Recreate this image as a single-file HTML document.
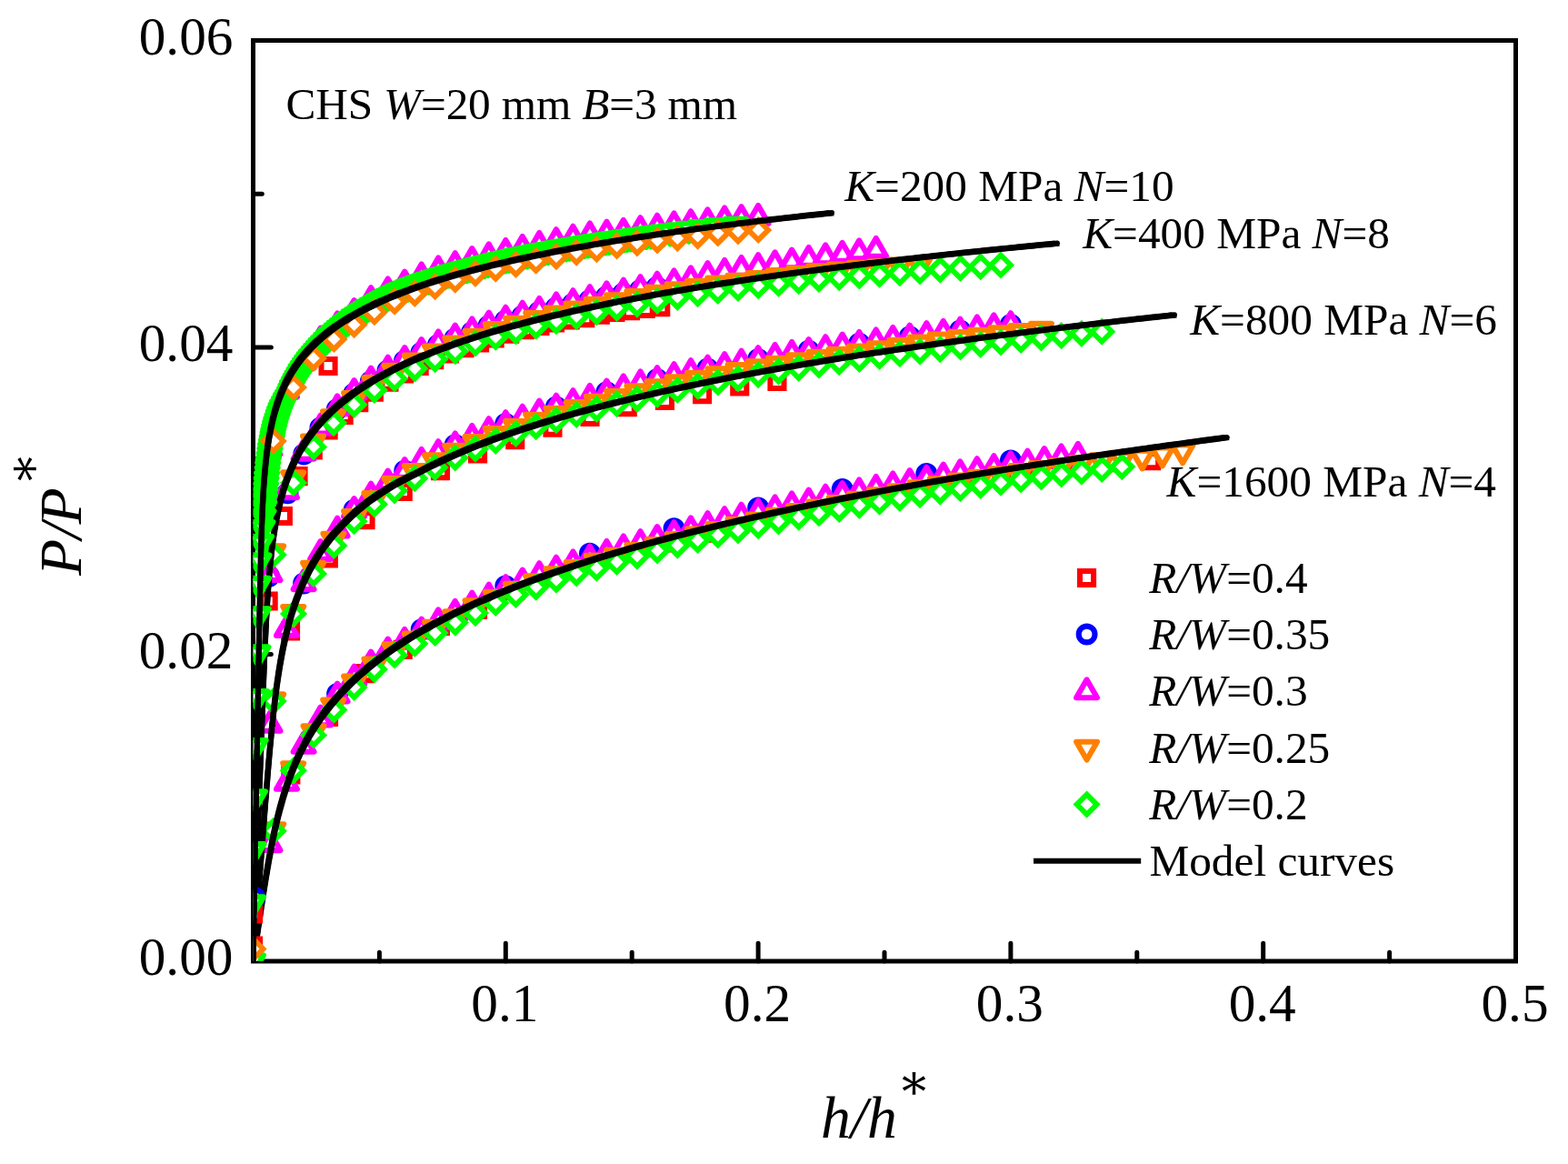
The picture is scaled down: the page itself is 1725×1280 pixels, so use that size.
<!DOCTYPE html>
<html lang="en"><head><meta charset="utf-8"><title>P/P* versus h/h* model curves</title>
<style>
html,body{margin:0;padding:0;background:#fff;}
body{width:1725px;height:1280px;overflow:hidden;}
svg{display:block;}
svg text{font-family:"Liberation Serif","DejaVu Serif",serif;fill:#000;}
.i{font-style:italic;}
.st{font-family:"DejaVu Serif","Liberation Serif",serif;}
.mk{fill:#fff;stroke-width:6.1;stroke-linejoin:round;}
.sr{fill:none;stroke:none;}
.sq{stroke-width:6;stroke-linejoin:miter;}
.di{stroke-width:5.8;stroke-linejoin:miter;}
.ax{stroke:#000;stroke-width:5;stroke-linecap:round;fill:none;}
.cv{stroke:#000;stroke-width:6.1;stroke-linecap:round;stroke-linejoin:round;fill:none;}
</style></head>
<body>
<svg width="1725" height="1280" viewBox="0 0 1725 1280">
<rect width="1725" height="1280" fill="#fff"/>
<defs><clipPath id="pl"><rect x="278.5" y="44.5" width="1389.0" height="1012.5"/></clipPath>
<marker id="sq-r" markerUnits="userSpaceOnUse" markerWidth="40" markerHeight="40" viewBox="-20 -20 40 40" refX="0" refY="0" overflow="visible"><path class="mk sq" stroke="#ff0000" d="M-7.5 -7.5h15.1v15.1h-15.1z"/></marker>
<marker id="ci-b" markerUnits="userSpaceOnUse" markerWidth="40" markerHeight="40" viewBox="-20 -20 40 40" refX="0" refY="0" overflow="visible"><path class="mk" stroke="#0000ff" d="M-8.9 0a8.9 8.9 0 1 0 17.8 0a8.9 8.9 0 1 0 -17.8 0z"/></marker>
<marker id="up-m" markerUnits="userSpaceOnUse" markerWidth="40" markerHeight="40" viewBox="-20 -20 40 40" refX="0" refY="0" overflow="visible"><path class="mk" stroke="#ff00ff" d="M0 -13.2l11.4 19.8h-22.9z"/></marker>
<marker id="dn-o" markerUnits="userSpaceOnUse" markerWidth="40" markerHeight="40" viewBox="-20 -20 40 40" refX="0" refY="0" overflow="visible"><path class="mk" stroke="#ff8000" d="M0 13.2l11.4 -19.8h-22.9z"/></marker>
<marker id="dn-g" markerUnits="userSpaceOnUse" markerWidth="40" markerHeight="40" viewBox="-20 -20 40 40" refX="0" refY="0" overflow="visible"><path class="mk" stroke="#00ff00" d="M0 13.2l11.4 -19.8h-22.9z"/></marker>
<marker id="di-o" markerUnits="userSpaceOnUse" markerWidth="40" markerHeight="40" viewBox="-20 -20 40 40" refX="0" refY="0" overflow="visible"><path class="mk di" stroke="#ff8000" d="M0 -11l11 11l-11 11l-11 -11z"/></marker>
<marker id="di-g" markerUnits="userSpaceOnUse" markerWidth="40" markerHeight="40" viewBox="-20 -20 40 40" refX="0" refY="0" overflow="visible"><path class="mk di" stroke="#00ff00" d="M0 -11l11 11l-11 11l-11 -11z"/></marker>
</defs>
<g id="axes">
<rect x="278.5" y="44.5" width="1389.0" height="1012.5" fill="none" stroke="#000" stroke-width="5"/>
<path class="ax" d="M417.4 1057v-9.8M556.3 1057v-19.8M695.2 1057v-9.8M834.1 1057v-19.8M973 1057v-9.8M1111.9 1057v-19.8M1250.8 1057v-9.8M1389.7 1057v-19.8M1528.6 1057v-9.8M278.5 888.2h9.8M278.5 719.5h19.8M278.5 550.8h9.8M278.5 382h19.8M278.5 213.2h9.8"/>
</g>
<g id="ticklabels" font-size="59.3">
<text x="555.3" y="1123" text-anchor="middle">0.1</text>
<text x="833.1" y="1123" text-anchor="middle">0.2</text>
<text x="1110.9" y="1123" text-anchor="middle">0.3</text>
<text x="1388.7" y="1123" text-anchor="middle">0.4</text>
<text x="1666.5" y="1123" text-anchor="middle">0.5</text>
<text x="256.5" y="1072.2" text-anchor="end">0.00</text>
<text x="256.5" y="734.7" text-anchor="end">0.02</text>
<text x="256.5" y="397.2" text-anchor="end">0.04</text>
<text x="256.5" y="59.7" text-anchor="end">0.06</text>
</g>
<g id="titles" font-size="65.7">
<text x="903" y="1251.3"><tspan class="i">h/h</tspan></text>
<text class="st" x="992.1" y="1219.9" font-size="54">*</text>
<text transform="translate(89,633) rotate(-90)" x="0 40.1 56.6" y="0"><tspan class="i">P/P</tspan></text>
<text class="st" transform="translate(55.9,529.1) rotate(-90)" font-size="54">*</text>
</g>
<g id="data" clip-path="url(#pl)">
<g id="K4">
<path class="sr" marker-start="url(#sq-r)" marker-mid="url(#sq-r)" marker-end="url(#sq-r)" d="M319.8 852 361.5 788.3 402 740.6 443.2 714.3 484.4 688.5 525.5 670.5 566.7 649.6 607.9 634.2 649 620.5 690.2 608.1 731.4 596.8 772.5 586.2 813.7 576.4 854.9 567.2 896.1 558.5 937.2 550.2 978.4 542.4 1019.6 535.2 1060.7 528.5 1101.9 522.1 1143.1 516.8 1184.2 511.7 1225.4 508.6 1266.6 506.6"/>
<path class="sr" marker-start="url(#ci-b)" marker-mid="url(#ci-b)" marker-end="url(#ci-b)" d="M371.1 763 463.7 692.1 556.3 644.4 648.9 608.8 741.5 581.1 834.1 558.4 926.7 538 1019.3 521 1111.9 506.4"/>
<path class="sr" marker-start="url(#up-m)" marker-mid="url(#up-m)" marker-end="url(#up-m)" d="M297 928.5 315.5 861.1 334.1 820.1 352.6 790.8 371.1 764.8 389.6 745.9 408.1 729.8 426.7 715.8 445.2 705.1 463.7 693.8 482.2 683.6 500.7 674.1 519.3 664.9 537.8 655.9 556.3 647.4 574.8 639.8 593.3 632.5 611.9 626 630.4 619.7 648.9 613.8 667.4 608.2 685.9 602.7 704.5 597.4 723 592.3 741.5 587.4 760 582.6 778.5 577.4 797.1 572.4 815.6 568 834.1 563.7 852.6 559.7 871.1 555.7 889.7 551.8 908.2 548 926.7 544.3 945.2 540.7 963.7 537.2 982.3 533.7 1000.8 530.3 1019.3 527 1037.8 523.8 1056.3 520.6 1074.9 517.5 1093.4 514.4 1111.9 511.6 1130.4 508.9 1148.9 506.3 1167.5 503.7 1186 501.1"/>
<path class="sr" marker-start="url(#dn-o)" marker-mid="url(#dn-o)" marker-end="url(#dn-o)" d="M300.7 912.8 322.7 845.9 345 804.8 366.7 776.1 389.6 750.1 411.9 731.1 434.1 714.9 456.3 703.2 478.6 690.5 500.8 679 523 666.9 545.3 657.3 567.5 648.3 589.7 639.9 612 632 634.2 624.6 656.4 617.5 678.6 611.4 700.9 605.7 723.1 599.6 745.3 593.7 767.6 588.1 789.8 582.6 812 577.4 834.2 572.3 856.5 567.4 878.7 562.7 900.9 558.1 923.2 553.6 945.4 549.3 967.6 545 989.9 540.9 1012.1 536.9 1034.3 533 1056.6 529.2 1078.8 525.4 1101 521.8 1123.2 518.7 1145.5 515.6 1167.7 512.6 1189.9 509.7 1212.2 507 1234.4 504.5 1256.6 502.2 1278.8 499.1 1301.1 496"/>
<path class="sr" marker-start="url(#di-g)" marker-mid="url(#di-g)" marker-end="url(#di-g)" d="M300.7 913.8 322.8 847.3 345 808.5 367.4 780.6 389.6 755.8 411.9 736.1 434.1 720.4 456.3 707.7 478.6 696 500.8 684.6 523 674.1 545.3 663 567.5 654 589.7 645.6 612 637.7 634.2 630.3 656.4 624.7 678.6 618 700.9 611.6 723.1 605.5 745.3 599.6 767.6 594 789.8 588.5 812 583.3 834.2 578.2 856.5 573.3 878.7 568.6 900.9 564.2 923.2 559.9 945.4 555.8 967.6 551.7 989.9 547.8 1012.1 544.1 1034.3 540.6 1056.6 537.2 1078.8 533.9 1101 530.7 1123.2 527.5 1145.5 524.4 1167.7 521.5 1189.9 518.7 1212.2 516 1234.4 513.2"/>
<path class="cv" d="M278.5 1057 L278.9 1054.5 L279.2 1052 L279.6 1049.5 L280 1047 L280.4 1044.5 L280.7 1042 L281.1 1039.5 L281.5 1037 L281.8 1034.5 L282.2 1032 L282.6 1029.5 L283 1027 L283.3 1024.5 L283.7 1022 L284.1 1019.5 L284.5 1017 L284.8 1014.5 L285.2 1012 L285.6 1009.5 L286 1007 L286.3 1004.5 L286.7 1002 L287.1 999.5 L287.5 997 L287.9 994.5 L288.2 992 L288.6 989.5 L289 987 L289.4 984.5 L289.8 982 L290.2 979.5 L290.6 977 L291 974.5 L291.4 972 L291.8 969.5 L292.2 967 L292.6 964.5 L293 962 L293.4 959.6 L293.8 957.1 L294.3 954.6 L294.7 952.1 L295.1 949.6 L295.6 947.1 L296 944.6 L296.4 942.1 L296.9 939.6 L297.4 937.1 L297.8 934.6 L298.3 932.1 L298.8 929.6 L299.3 927.1 L299.8 924.7 L300.3 922.2 L300.8 919.7 L301.3 917.2 L301.8 914.7 L302.4 912.2 L302.9 909.7 L303.5 907.2 L304.1 904.8 L304.7 902.3 L305.3 899.8 L305.9 897.3 L306.5 894.8 L307.1 892.3 L307.8 889.8 L308.4 887.4 L309.1 884.9 L309.8 882.4 L310.5 879.9 L311.2 877.4 L312 875 L312.7 872.5 L313.5 870 L314.3 867.5 L315.1 865 L316 862.6 L316.8 860.1 L317.7 857.6 L318.6 855.1 L319.5 852.6 L320.5 850.2 L321.4 847.7 L322.4 845.2 L323.4 842.7 L324.5 840.3 L325.5 837.8 L326.6 835.3 L327.8 832.8 L328.9 830.4 L330.1 827.9 L331.3 825.4 L332.5 822.9 L333.8 820.5 L335.1 818 L336.5 815.5 L337.8 813 L339.2 810.6 L340.7 808.1 L342.2 805.6 L343.7 803.1 L345.2 800.7 L346.8 798.2 L348.5 795.7 L350.1 793.2 L351.8 790.8 L353.6 788.3 L355.4 785.8 L357.3 783.3 L359.2 780.9 L361.1 778.4 L363.1 775.9 L365.1 773.5 L367.2 771 L369.4 768.5 L371.5 766 L373.8 763.6 L376.1 761.1 L378.4 758.6 L380.9 756.1 L383.3 753.7 L385.9 751.2 L388.4 748.7 L391.1 746.2 L393.8 743.8 L396.6 741.3 L399.4 738.8 L402.3 736.3 L405.3 733.9 L408.3 731.4 L411.4 728.9 L414.6 726.5 L417.8 724 L421.2 721.5 L424.6 719 L428 716.6 L431.6 714.1 L435.2 711.6 L438.9 709.1 L442.7 706.7 L446.6 704.2 L450.5 701.7 L454.6 699.2 L458.7 696.8 L462.9 694.3 L467.2 691.8 L471.6 689.3 L476.1 686.9 L480.7 684.4 L485.4 681.9 L490.2 679.4 L495 676.9 L500 674.5 L505.1 672 L510.3 669.5 L515.6 667 L521 664.6 L526.5 662.1 L532.1 659.6 L537.8 657.1 L543.6 654.7 L549.6 652.2 L555.7 649.7 L561.8 647.2 L568.2 644.8 L574.6 642.3 L581.1 639.8 L587.8 637.3 L594.6 634.8 L601.6 632.4 L608.6 629.9 L615.8 627.4 L623.1 624.9 L630.6 622.5 L638.2 620 L646 617.5 L653.9 615 L661.9 612.6 L669.9 610.1 L677.9 607.7 L685.9 605.4 L693.9 603.1 L701.9 600.8 L709.9 598.6 L717.9 596.4 L725.9 594.2 L733.9 592.1 L741.9 590 L749.9 587.9 L757.9 585.9 L765.9 583.9 L773.9 581.9 L781.9 579.9 L789.9 578 L797.9 576.1 L805.9 574.2 L813.9 572.4 L821.9 570.5 L829.9 568.7 L837.9 566.9 L845.9 565.1 L853.9 563.4 L861.9 561.7 L869.9 559.9 L877.9 558.3 L885.9 556.6 L893.9 554.9 L901.9 553.3 L909.9 551.7 L917.9 550.1 L925.9 548.5 L933.9 546.9 L941.9 545.3 L949.9 543.8 L957.9 542.3 L965.9 540.8 L973.9 539.3 L981.9 537.8 L989.9 536.3 L997.9 534.9 L1005.9 533.4 L1013.9 532 L1021.9 530.6 L1029.9 529.2 L1037.9 527.8 L1045.9 526.4 L1053.9 525 L1061.9 523.7 L1069.9 522.3 L1077.9 521 L1085.9 519.7 L1093.9 518.4 L1101.9 517.1 L1109.9 515.8 L1117.9 514.5 L1125.9 513.2 L1133.9 511.9 L1141.9 510.7 L1149.9 509.4 L1157.9 508.2 L1165.9 507 L1173.9 505.8 L1181.9 504.6 L1189.9 503.4 L1197.9 502.2 L1205.9 501 L1213.9 499.8 L1221.9 498.7 L1229.9 497.5 L1237.9 496.3 L1245.9 495.2 L1253.9 494.1 L1261.9 492.9 L1269.9 491.8 L1277.9 490.7 L1285.9 489.6 L1293.9 488.5 L1301.9 487.4 L1309.9 486.3 L1317.9 485.3 L1325.9 484.2 L1333.9 483.1 L1341.9 482.1 L1349.8 481"/>
<path fill="#000" d="M275.4 1054 L275.8 1051.5 L276.2 1049 L276.6 1046.5 L276.9 1044 L277.3 1041.5 L277.7 1039 L278.1 1036.5 L278.4 1034 L278.8 1031.5 L279.2 1029 L279.5 1026.5 L279.9 1024 L280.3 1021.5 L280.7 1019 L281 1016.5 L281.4 1014 L281.8 1011.5 L282.2 1009 L282.5 1006.5 L282.9 1004 L283.3 1001.5 L283.7 999 L284 996.5 L284.4 994 L284.8 991.5 L285.2 989 L285.6 986.5 L286 984 L286.3 981.5 L286.7 979 L287.1 976.5 L287.5 974 L287.9 971.5 L288.3 969 L288.7 966.5 L289.1 964 L289.5 961.5 L289.9 959 L290.4 956.5 L290.8 954 L291.2 951.5 L291.6 949 L292.1 946.5 L292.5 944 L292.9 941.5 L293.4 939 L293.9 936.6 L294.3 934.1 L294.8 931.6 L295.3 929.1 L295.7 926.6 L296.2 924.1 L296.7 921.6 L297.2 919.1 L297.7 916.6 L298.3 914.1 L298.8 911.7 L299.3 909.2 L299.9 906.7 L300.5 904.2 L301 901.7 L301.6 899.2 L302.2 896.7 L302.8 894.2 L303.4 891.8 L304.1 889.3 L304.7 886.8 L305.4 884.3 L306.1 881.8 L306.8 879.4 L307.5 876.9 L308.2 874.4 L308.9 871.9 L309.7 869.4 L310.5 866.9 L311.3 864.5 L312.1 862 L312.9 859.5 L313.8 857 L314.6 854.6 L315.5 852.1 L316.5 849.6 L317.4 847.1 L318.4 844.6 L319.4 842.2 L320.4 839.7 L321.4 837.2 L322.5 834.7 L323.6 832.3 L324.7 829.8 L325.9 827.3 L327 824.8 L328.2 822.4 L329.5 819.9 L330.8 817.4 L332.1 814.9 L333.4 812.5 L334.8 810 L336.2 807.5 L337.6 805 L339.1 802.6 L340.6 800.1 L342.2 797.6 L343.8 795.1 L345.4 792.7 L347.1 790.2 L348.8 787.7 L350.6 785.2 L352.4 782.8 L354.2 780.3 L356.1 777.8 L358.1 775.4 L360 772.9 L362.1 770.4 L364.2 767.9 L366.3 765.5 L368.5 763 L370.7 760.5 L373 758 L375.4 755.6 L377.8 753.1 L380.3 750.6 L382.8 748.1 L385.4 745.7 L388 743.2 L390.7 740.7 L393.5 738.2 L396.4 735.8 L399.3 733.3 L402.2 730.8 L405.3 728.3 L408.4 725.9 L411.5 723.4 L414.8 720.9 L418.1 718.5 L421.5 716 L425 713.5 L428.5 711 L432.2 708.6 L435.9 706.1 L439.7 703.6 L443.5 701.1 L447.5 698.7 L451.5 696.2 L455.7 693.7 L459.9 691.2 L464.2 688.8 L468.6 686.3 L473.1 683.8 L477.7 681.3 L482.3 678.9 L487.1 676.4 L492 673.9 L497 671.4 L502.1 668.9 L507.2 666.5 L512.5 664 L517.9 661.5 L523.4 659 L529 656.6 L534.8 654.1 L540.6 651.6 L546.5 649.1 L552.6 646.7 L558.8 644.2 L565.1 641.7 L571.5 639.2 L578.1 636.7 L584.8 634.3 L591.6 631.8 L598.5 629.3 L605.6 626.8 L612.8 624.4 L620.1 621.9 L627.6 619.4 L635.2 616.9 L642.9 614.5 L650.8 612 L658.8 609.5 L666.8 607.1 L674.8 604.7 L682.8 602.4 L690.8 600 L698.8 597.8 L706.8 595.5 L714.8 593.4 L722.8 591.2 L730.8 589.1 L738.8 587 L746.8 584.9 L754.8 582.8 L762.8 580.8 L770.8 578.8 L778.8 576.9 L786.8 575 L794.8 573 L802.8 571.2 L810.8 569.3 L818.8 567.5 L826.8 565.7 L834.8 563.9 L842.8 562.1 L850.8 560.3 L858.8 558.6 L866.8 556.9 L874.8 555.2 L882.8 553.5 L890.8 551.9 L898.8 550.2 L906.8 548.6 L914.8 547 L922.8 545.4 L930.8 543.8 L938.8 542.3 L946.8 540.8 L954.8 539.2 L962.8 537.7 L970.8 536.2 L978.8 534.7 L986.8 533.3 L994.8 531.8 L1002.8 530.4 L1010.8 528.9 L1018.8 527.5 L1026.8 526.1 L1034.8 524.7 L1042.8 523.3 L1050.8 522 L1058.8 520.6 L1066.8 519.3 L1074.8 517.9 L1082.8 516.6 L1090.8 515.3 L1098.8 514 L1106.8 512.7 L1114.8 511.4 L1122.8 510.2 L1130.8 508.9 L1138.8 507.6 L1146.8 506.4 L1154.8 505.2 L1162.8 503.9 L1170.8 502.7 L1178.8 501.5 L1186.8 500.3 L1194.8 499.1 L1202.8 497.9 L1210.8 496.8 L1218.8 495.6 L1226.8 494.4 L1234.8 493.3 L1242.8 492.2 L1250.8 491 L1258.8 489.9 L1266.8 488.8 L1274.8 487.7 L1282.8 486.6 L1290.8 485.5 L1298.8 484.4 L1306.8 483.3 L1314.8 482.2 L1322.8 481.1 L1330.8 480.1 L1338.8 479 L1346.8 478 L1352.8 484.1 L1344.9 485.1 L1336.9 486.2 L1328.9 487.2 L1320.9 488.3 L1312.9 489.4 L1304.9 490.5 L1296.9 491.6 L1288.9 492.7 L1280.9 493.8 L1272.9 494.9 L1264.9 496 L1256.9 497.1 L1248.9 498.3 L1240.9 499.4 L1232.9 500.5 L1224.9 501.7 L1216.9 502.9 L1208.9 504 L1200.9 505.2 L1192.9 506.4 L1184.9 507.6 L1176.9 508.8 L1168.9 510 L1160.9 511.3 L1152.9 512.5 L1144.9 513.7 L1136.9 515 L1128.9 516.3 L1120.9 517.5 L1112.9 518.8 L1104.9 520.1 L1096.9 521.4 L1088.9 522.7 L1080.9 524 L1072.9 525.4 L1064.9 526.7 L1056.9 528.1 L1048.9 529.4 L1040.9 530.8 L1032.9 532.2 L1024.9 533.6 L1016.9 535 L1008.9 536.5 L1000.9 537.9 L992.9 539.4 L984.9 540.8 L976.9 542.3 L968.9 543.8 L960.9 545.3 L952.9 546.9 L944.9 548.4 L936.9 549.9 L928.9 551.5 L920.9 553.1 L912.9 554.7 L904.9 556.3 L896.9 558 L888.9 559.6 L880.9 561.3 L872.9 563 L864.9 564.7 L856.9 566.4 L848.9 568.2 L840.9 570 L832.9 571.8 L824.9 573.6 L816.9 575.4 L808.9 577.3 L800.9 579.1 L792.9 581.1 L784.9 583 L776.9 584.9 L768.9 586.9 L760.9 588.9 L752.9 591 L744.9 593.1 L736.9 595.2 L728.9 597.3 L720.9 599.5 L712.9 601.6 L704.9 603.9 L696.9 606.1 L688.9 608.5 L680.9 610.8 L672.9 613.2 L664.9 615.6 L656.9 618.1 L649 620.6 L641.3 623 L633.7 625.5 L626.2 628 L618.9 630.5 L611.7 632.9 L604.6 635.4 L597.7 637.9 L590.9 640.4 L584.2 642.8 L577.6 645.3 L571.2 647.8 L564.9 650.3 L558.7 652.8 L552.6 655.2 L546.7 657.7 L540.9 660.2 L535.1 662.7 L529.5 665.1 L524 667.6 L518.6 670.1 L513.3 672.6 L508.2 675 L503.1 677.5 L498.1 680 L493.2 682.5 L488.4 685 L483.8 687.4 L479.2 689.9 L474.7 692.4 L470.3 694.9 L466 697.3 L461.8 699.8 L457.6 702.3 L453.6 704.8 L449.6 707.2 L445.8 709.7 L442 712.2 L438.3 714.7 L434.6 717.1 L431.1 719.6 L427.6 722.1 L424.2 724.6 L420.9 727 L417.6 729.5 L414.5 732 L411.4 734.4 L408.3 736.9 L405.4 739.4 L402.5 741.9 L399.6 744.3 L396.8 746.8 L394.1 749.3 L391.5 751.8 L388.9 754.2 L386.4 756.7 L383.9 759.2 L381.5 761.7 L379.1 764.1 L376.8 766.6 L374.6 769.1 L372.4 771.6 L370.3 774 L368.2 776.5 L366.1 779 L364.2 781.5 L362.2 783.9 L360.3 786.4 L358.5 788.9 L356.7 791.3 L354.9 793.8 L353.2 796.3 L351.5 798.8 L349.9 801.2 L348.3 803.7 L346.7 806.2 L345.2 808.7 L343.7 811.1 L342.3 813.6 L340.9 816.1 L339.5 818.6 L338.2 821 L336.9 823.5 L335.6 826 L334.3 828.5 L333.1 830.9 L332 833.4 L330.8 835.9 L329.7 838.4 L328.6 840.8 L327.5 843.3 L326.5 845.8 L325.5 848.3 L324.5 850.7 L323.5 853.2 L322.6 855.7 L321.6 858.2 L320.7 860.7 L319.9 863.1 L319 865.6 L318.2 868.1 L317.4 870.6 L316.6 873 L315.8 875.5 L315 878 L314.3 880.5 L313.6 883 L312.9 885.5 L312.2 887.9 L311.5 890.4 L310.8 892.9 L310.2 895.4 L309.5 897.9 L308.9 900.3 L308.3 902.8 L307.7 905.3 L307.1 907.8 L306.6 910.3 L306 912.8 L305.4 915.3 L304.9 917.8 L304.4 920.2 L303.8 922.7 L303.3 925.2 L302.8 927.7 L302.3 930.2 L301.8 932.7 L301.4 935.2 L300.9 937.7 L300.4 940.2 L300 942.7 L299.5 945.1 L299 947.6 L298.6 950.1 L298.2 952.6 L297.7 955.1 L297.3 957.6 L296.9 960.1 L296.5 962.6 L296 965.1 L295.6 967.6 L295.2 970.1 L294.8 972.6 L294.4 975.1 L294 977.6 L293.6 980.1 L293.2 982.6 L292.8 985.1 L292.4 987.6 L292.1 990.1 L291.7 992.6 L291.3 995.1 L290.9 997.6 L290.5 1000.1 L290.1 1002.6 L289.8 1005.1 L289.4 1007.6 L289 1010.1 L288.6 1012.6 L288.3 1015.1 L287.9 1017.6 L287.5 1020.1 L287.1 1022.6 L286.8 1025.1 L286.4 1027.6 L286 1030.1 L285.6 1032.6 L285.3 1035.1 L284.9 1037.6 L284.5 1040.1 L284.2 1042.6 L283.8 1045.1 L283.4 1047.6 L283 1050.1 L282.7 1052.6 L282.3 1055.1 L281.9 1057.6 L281.6 1060Z"/>
</g>
<g id="K3">
<path class="sr" marker-start="url(#sq-r)" marker-mid="url(#sq-r)" marker-end="url(#sq-r)" d="M319.5 693.8 361.3 614 402 571.7 443.2 540.5 484.4 517.7 525.5 498.9 566.7 483.7 607.9 470.1 649 458.3 690.2 447.6 731.4 440.3 772.5 433.7 813.7 424.8 854.9 419.5"/>
<path class="sr" marker-start="url(#ci-b)" marker-mid="url(#ci-b)" marker-end="url(#ci-b)" d="M334.1 641.5 389.6 560.8 445.2 517.8 500.7 489.2 556.3 466 611.9 447.5 667.4 431.3 723 416.9 778.5 405.4 834.1 395 889.7 385.8 945.2 377.7 1000.8 370.3 1056.3 363.4 1111.9 357"/>
<path class="sr" marker-start="url(#up-m)" marker-mid="url(#up-m)" marker-end="url(#up-m)" d="M297 797.2 315.5 692.3 334.1 641.5 352.6 608.3 371.1 582.9 389.6 561.3 408.1 544.9 426.7 530.8 445.2 518.3 463.7 507.2 482.2 498.5 500.7 489.7 519.3 481.2 537.8 473.5 556.3 466.5 574.8 460 593.3 453.8 611.9 448 630.4 442.4 648.9 437.1 667.4 431.8 685.9 426.6 704.5 421.7 723 417.4 741.5 413.4 760 409.4 778.5 405.9 797.1 402.4 815.6 398.9 834.1 395.5 852.6 392.2 871.1 389.2 889.7 386.3 908.2 383.5 926.7 380.8 945.2 378.2 963.7 375.7 982.3 373.2 1000.8 370.8 1019.3 368.4 1037.8 366.1 1056.3 363.9 1074.9 361.7 1093.4 359.6 1111.9 357.5"/>
<path class="sr" marker-start="url(#dn-o)" marker-mid="url(#dn-o)" marker-end="url(#dn-o)" d="M300.7 770 322.7 673.6 344.6 625.5 366.9 593.3 389.6 568.7 411.9 548.6 434.1 532.5 456.3 518.6 478.6 506.8 500.8 496.3 523 486.7 545.3 477.7 567.5 469.7 589.7 462.3 612 455.3 634.2 448.7 656.4 442.5 678.6 436.6 700.9 431 723.1 425.9 745.3 421 767.6 416.3 789.8 411.9 812 407.7 834.2 404 856.5 400.3 878.7 396.9 900.9 393.5 923.2 390.3 945.4 387.2 967.6 383.8 989.9 380.5 1012.1 377.2 1034.3 374.1 1056.6 371.6 1078.8 369.3 1101 366.9 1123.2 364.7 1145.5 362.5"/>
<path class="sr" marker-start="url(#di-g)" marker-mid="url(#di-g)" marker-end="url(#di-g)" d="M300.7 771 323 675 345 631 367.4 600 389.6 573.2 411.9 554.4 434.1 539.5 456.3 526.1 478.6 514.1 500.8 503.4 523 493.7 545.3 485 567.5 476.9 589.7 469.2 612 462.2 634.2 455.9 656.4 449.9 678.6 444.2 700.9 438.8 723.1 433.8 745.3 429 767.6 424.6 789.8 420.4 812 416.5 834.2 412.1 856.5 408.4 878.7 404.8 900.9 401.4 923.2 398.1 945.4 394.9 967.6 392 989.9 389.2 1012.1 386.6 1034.3 384.1 1056.6 381.5 1078.8 378.9 1101 376.3 1123.2 373.9 1145.5 371.4 1167.7 369.2 1189.9 366.8 1212.2 364.7"/>
<path class="cv" d="M278.5 1057 L278.7 1054.4 L278.9 1051.8 L279.1 1049.2 L279.3 1046.6 L279.5 1044 L279.7 1041.4 L279.9 1038.8 L280.1 1036.2 L280.3 1033.6 L280.5 1031 L280.7 1028.4 L280.9 1025.8 L281.1 1023.2 L281.3 1020.6 L281.5 1018.1 L281.7 1015.5 L281.9 1012.9 L282.1 1010.3 L282.3 1007.7 L282.5 1005.1 L282.7 1002.5 L282.9 999.9 L283.1 997.3 L283.3 994.7 L283.5 992.1 L283.7 989.5 L283.9 986.9 L284.1 984.3 L284.3 981.7 L284.5 979.1 L284.7 976.5 L284.9 973.9 L285.1 971.3 L285.3 968.7 L285.5 966.1 L285.7 963.5 L285.9 960.9 L286.1 958.3 L286.3 955.8 L286.5 953.2 L286.7 950.6 L286.9 948 L287.1 945.4 L287.3 942.8 L287.5 940.2 L287.7 937.6 L287.9 935 L288.1 932.4 L288.3 929.9 L288.5 927.3 L288.7 924.7 L288.9 922.1 L289.1 919.5 L289.3 917 L289.5 914.4 L289.7 911.8 L289.9 909.2 L290.1 906.7 L290.3 904.1 L290.5 901.6 L290.7 899 L290.9 896.5 L291.1 893.9 L291.3 891.4 L291.5 888.8 L291.7 886.3 L291.9 883.8 L292.1 881.3 L292.3 878.8 L292.5 876.2 L292.7 873.7 L292.9 871.2 L293.1 868.7 L293.3 866.2 L293.5 863.7 L293.7 861.2 L293.9 858.7 L294.1 856.2 L294.3 853.7 L294.5 851.2 L294.7 848.7 L295 846.2 L295.2 843.7 L295.4 841.2 L295.6 838.7 L295.8 836.2 L296 833.7 L296.2 831.2 L296.5 828.7 L296.7 826.2 L296.9 823.7 L297.1 821.2 L297.4 818.7 L297.6 816.2 L297.8 813.7 L298.1 811.2 L298.3 808.7 L298.6 806.2 L298.8 803.7 L299 801.2 L299.3 798.7 L299.6 796.2 L299.8 793.7 L300.1 791.2 L300.3 788.7 L300.6 786.2 L300.9 783.7 L301.2 781.2 L301.4 778.7 L301.7 776.2 L302 773.7 L302.3 771.2 L302.6 768.7 L302.9 766.2 L303.2 763.7 L303.5 761.3 L303.9 758.8 L304.2 756.3 L304.5 753.8 L304.9 751.3 L305.2 748.8 L305.6 746.3 L306 743.8 L306.3 741.3 L306.7 738.8 L307.1 736.3 L307.5 733.8 L307.9 731.4 L308.4 728.9 L308.8 726.4 L309.3 723.9 L309.7 721.4 L310.2 718.9 L310.7 716.4 L311.1 714 L311.7 711.5 L312.2 709 L312.7 706.5 L313.2 704 L313.8 701.5 L314.4 699.1 L315 696.6 L315.6 694.1 L316.2 691.6 L316.8 689.1 L317.5 686.7 L318.2 684.2 L318.9 681.7 L319.6 679.2 L320.3 676.7 L321.1 674.3 L321.9 671.8 L322.6 669.3 L323.5 666.8 L324.3 664.4 L325.2 661.9 L326.1 659.4 L327 656.9 L327.9 654.5 L328.9 652 L329.9 649.5 L330.9 647 L332 644.6 L333 642.1 L334.2 639.6 L335.3 637.2 L336.5 634.7 L337.7 632.2 L338.9 629.7 L340.2 627.3 L341.5 624.8 L342.9 622.3 L344.2 619.8 L345.7 617.4 L347.1 614.9 L348.6 612.4 L350.2 610 L351.8 607.5 L353.5 605 L355.3 602.6 L357.1 600.1 L358.9 597.6 L360.8 595.1 L362.8 592.7 L364.8 590.2 L366.9 587.7 L369 585.3 L371.2 582.8 L373.5 580.3 L375.8 577.9 L378.2 575.4 L380.6 572.9 L383.1 570.5 L385.7 568 L388.4 565.5 L391.2 563.1 L394 560.6 L396.9 558.1 L399.9 555.6 L403 553.2 L406.3 550.8 L409.8 548.3 L413.3 545.9 L417 543.4 L420.7 540.9 L424.6 538.5 L428.6 536 L432.7 533.6 L437.2 531.1 L441.7 528.7 L446.5 526.2 L451.3 523.8 L456.4 521.3 L461.6 518.7 L466.3 516.3 L471.2 513.8 L476.2 511.3 L481.3 508.8 L486.5 506.4 L491.9 503.9 L497.4 501.4 L503 499 L508.8 496.5 L514.8 494 L520.9 491.6 L527.1 489.1 L533.5 486.6 L540.1 484.1 L546.8 481.7 L553.7 479.2 L560.8 476.7 L568 474.3 L575.4 471.8 L583 469.3 L590.8 466.8 L598.8 464.4 L606.8 462 L614.8 459.6 L622.8 457.3 L630.8 455 L638.8 452.8 L646.8 450.6 L654.8 448.5 L662.8 446.4 L670.8 444.4 L678.8 442.4 L686.8 440.4 L694.8 438.5 L702.8 436.6 L710.8 434.7 L718.8 432.9 L726.8 431.1 L734.8 429.3 L742.8 427.6 L750.8 425.9 L758.8 424.2 L766.8 422.5 L774.8 420.9 L782.8 419.3 L790.8 417.7 L798.8 416.1 L806.8 414.5 L814.8 413 L822.8 411.5 L830.8 410 L838.8 408.6 L846.8 407.1 L854.8 405.7 L862.8 404.3 L870.8 402.9 L878.8 401.5 L886.8 400.1 L894.8 398.8 L902.8 397.5 L910.8 396.2 L918.8 394.9 L926.8 393.6 L934.8 392.3 L942.8 391.1 L950.8 389.8 L958.8 388.6 L966.8 387.4 L974.8 386.2 L982.8 385 L990.8 383.8 L998.8 382.7 L1006.8 381.5 L1014.8 380.4 L1022.8 379.2 L1030.8 378.1 L1038.8 377 L1046.8 375.9 L1054.8 374.8 L1062.8 373.7 L1070.8 372.7 L1078.8 371.6 L1086.8 370.5 L1094.8 369.5 L1102.8 368.5 L1110.8 367.5 L1118.8 366.4 L1126.8 365.4 L1134.8 364.4 L1142.8 363.4 L1150.8 362.5 L1158.8 361.5 L1166.8 360.5 L1174.8 359.6 L1182.8 358.6 L1190.8 357.7 L1198.8 356.7 L1206.8 355.8 L1214.8 354.9 L1222.8 354 L1230.8 353.1 L1238.8 352.2 L1246.8 351.3 L1254.8 350.4 L1262.8 349.5 L1270.8 348.6 L1278.8 347.8 L1286.8 346.9 L1292 346.4"/>
<path fill="#000" d="M275.4 1054 L275.6 1051.4 L275.8 1048.8 L276 1046.2 L276.2 1043.6 L276.4 1041 L276.6 1038.4 L276.8 1035.8 L277 1033.2 L277.2 1030.6 L277.4 1028 L277.6 1025.4 L277.8 1022.8 L278 1020.2 L278.2 1017.6 L278.4 1015 L278.6 1012.4 L278.8 1009.8 L279 1007.2 L279.2 1004.6 L279.4 1002 L279.6 999.4 L279.8 996.8 L280 994.2 L280.2 991.6 L280.4 989 L280.6 986.4 L280.8 983.8 L281 981.2 L281.2 978.7 L281.4 976.1 L281.6 973.5 L281.8 970.9 L282 968.3 L282.2 965.7 L282.4 963.1 L282.6 960.5 L282.8 957.9 L283 955.3 L283.2 952.7 L283.4 950.1 L283.6 947.5 L283.8 944.9 L284 942.3 L284.2 939.7 L284.4 937.2 L284.6 934.6 L284.8 932 L285 929.4 L285.2 926.8 L285.4 924.2 L285.6 921.6 L285.8 919.1 L286 916.5 L286.2 913.9 L286.4 911.3 L286.6 908.8 L286.8 906.2 L287 903.6 L287.2 901.1 L287.4 898.5 L287.6 896 L287.8 893.4 L288 890.9 L288.2 888.3 L288.4 885.8 L288.6 883.3 L288.8 880.7 L289 878.2 L289.2 875.7 L289.4 873.2 L289.7 870.7 L289.9 868.2 L290.1 865.7 L290.3 863.2 L290.5 860.7 L290.7 858.2 L290.9 855.7 L291.1 853.2 L291.3 850.7 L291.5 848.2 L291.7 845.7 L291.9 843.2 L292.1 840.7 L292.3 838.2 L292.5 835.7 L292.8 833.2 L293 830.7 L293.2 828.2 L293.4 825.7 L293.6 823.2 L293.9 820.7 L294.1 818.2 L294.3 815.7 L294.6 813.2 L294.8 810.7 L295 808.2 L295.3 805.7 L295.5 803.2 L295.7 800.7 L296 798.2 L296.2 795.7 L296.5 793.2 L296.8 790.7 L297 788.2 L297.3 785.7 L297.6 783.2 L297.8 780.7 L298.1 778.2 L298.4 775.7 L298.7 773.2 L299 770.7 L299.3 768.2 L299.6 765.7 L299.9 763.2 L300.2 760.7 L300.5 758.2 L300.8 755.7 L301.2 753.2 L301.5 750.7 L301.8 748.2 L302.2 745.7 L302.6 743.2 L302.9 740.8 L303.3 738.3 L303.7 735.8 L304.1 733.3 L304.5 730.8 L304.9 728.3 L305.3 725.8 L305.8 723.3 L306.2 720.8 L306.7 718.4 L307.1 715.9 L307.6 713.4 L308.1 710.9 L308.6 708.4 L309.1 705.9 L309.7 703.5 L310.2 701 L310.8 698.5 L311.3 696 L311.9 693.5 L312.5 691 L313.2 688.6 L313.8 686.1 L314.5 683.6 L315.1 681.1 L315.8 678.7 L316.5 676.2 L317.3 673.7 L318 671.2 L318.8 668.7 L319.6 666.3 L320.4 663.8 L321.3 661.3 L322.1 658.8 L323 656.4 L323.9 653.9 L324.9 651.4 L325.8 648.9 L326.8 646.5 L327.9 644 L328.9 641.5 L330 639 L331.1 636.6 L332.3 634.1 L333.4 631.6 L334.6 629.2 L335.9 626.7 L337.1 624.2 L338.5 621.7 L339.8 619.3 L341.2 616.8 L342.6 614.3 L344.1 611.8 L345.6 609.4 L347.1 606.9 L348.8 604.4 L350.5 602 L352.2 599.5 L354 597 L355.9 594.6 L357.8 592.1 L359.7 589.6 L361.7 587.2 L363.8 584.7 L365.9 582.2 L368.1 579.8 L370.4 577.3 L372.7 574.8 L375.1 572.3 L377.6 569.9 L380.1 567.4 L382.7 564.9 L385.4 562.5 L388.1 560 L390.9 557.5 L393.8 555.1 L396.8 552.6 L399.9 550.2 L403.3 547.7 L406.7 545.3 L410.3 542.8 L413.9 540.3 L417.7 537.9 L421.6 535.4 L425.6 532.9 L429.7 530.5 L434.1 528.1 L438.7 525.6 L443.4 523.2 L448.3 520.7 L453.3 518.2 L458.6 515.7 L463.3 513.2 L468.1 510.7 L473.1 508.3 L478.2 505.8 L483.5 503.3 L488.8 500.9 L494.3 498.4 L500 495.9 L505.8 493.4 L511.7 491 L517.8 488.5 L524.1 486 L530.5 483.6 L537 481.1 L543.8 478.6 L550.7 476.2 L557.7 473.7 L565 471.2 L572.4 468.7 L580 466.3 L587.8 463.8 L595.8 461.3 L603.8 458.9 L611.8 456.5 L619.8 454.2 L627.8 452 L635.8 449.8 L643.8 447.6 L651.8 445.5 L659.8 443.4 L667.8 441.3 L675.8 439.3 L683.8 437.4 L691.8 435.4 L699.8 433.5 L707.8 431.7 L715.8 429.8 L723.8 428 L731.8 426.3 L739.8 424.5 L747.8 422.8 L755.8 421.1 L763.8 419.5 L771.8 417.8 L779.8 416.2 L787.8 414.6 L795.8 413 L803.8 411.5 L811.8 410 L819.8 408.5 L827.8 407 L835.8 405.5 L843.8 404.1 L851.8 402.6 L859.8 401.2 L867.8 399.8 L875.8 398.5 L883.8 397.1 L891.8 395.8 L899.8 394.4 L907.8 393.1 L915.8 391.8 L923.8 390.5 L931.8 389.3 L939.8 388 L947.8 386.8 L955.8 385.5 L963.8 384.3 L971.8 383.1 L979.8 381.9 L987.8 380.8 L995.8 379.6 L1003.8 378.4 L1011.8 377.3 L1019.8 376.2 L1027.8 375.1 L1035.8 373.9 L1043.8 372.8 L1051.8 371.8 L1059.8 370.7 L1067.8 369.6 L1075.8 368.5 L1083.8 367.5 L1091.8 366.5 L1099.8 365.4 L1107.8 364.4 L1115.8 363.4 L1123.8 362.4 L1131.8 361.4 L1139.8 360.4 L1147.8 359.4 L1155.8 358.4 L1163.8 357.5 L1171.8 356.5 L1179.8 355.6 L1187.8 354.6 L1195.8 353.7 L1203.8 352.8 L1211.8 351.8 L1219.8 350.9 L1227.8 350 L1235.8 349.1 L1243.8 348.2 L1251.8 347.3 L1259.8 346.5 L1267.8 345.6 L1275.8 344.7 L1283.8 343.9 L1289 343.3 L1295 349.4 L1289.9 350 L1281.9 350.8 L1273.9 351.7 L1265.9 352.6 L1257.9 353.4 L1249.9 354.3 L1241.9 355.2 L1233.9 356.1 L1225.9 357 L1217.9 357.9 L1209.9 358.9 L1201.9 359.8 L1193.9 360.7 L1185.9 361.7 L1177.9 362.6 L1169.9 363.6 L1161.9 364.5 L1153.9 365.5 L1145.9 366.5 L1137.9 367.5 L1129.9 368.5 L1121.9 369.5 L1113.9 370.5 L1105.9 371.5 L1097.9 372.6 L1089.9 373.6 L1081.9 374.6 L1073.9 375.7 L1065.9 376.8 L1057.9 377.9 L1049.9 378.9 L1041.9 380 L1033.9 381.2 L1025.9 382.3 L1017.9 383.4 L1009.9 384.5 L1001.9 385.7 L993.9 386.9 L985.9 388 L977.9 389.2 L969.9 390.4 L961.9 391.6 L953.9 392.9 L945.9 394.1 L937.9 395.4 L929.9 396.6 L921.9 397.9 L913.9 399.2 L905.9 400.5 L897.9 401.9 L889.9 403.2 L881.9 404.6 L873.9 405.9 L865.9 407.3 L857.9 408.7 L849.9 410.2 L841.9 411.6 L833.9 413.1 L825.9 414.6 L817.9 416.1 L809.9 417.6 L801.9 419.1 L793.9 420.7 L785.9 422.3 L777.9 423.9 L769.9 425.6 L761.9 427.2 L753.9 428.9 L745.9 430.6 L737.9 432.4 L729.9 434.1 L721.9 435.9 L713.9 437.8 L705.9 439.6 L697.9 441.5 L689.9 443.5 L681.9 445.4 L673.9 447.4 L665.9 449.5 L657.9 451.6 L649.9 453.7 L641.9 455.9 L633.9 458.1 L625.9 460.3 L617.9 462.6 L609.9 465 L601.9 467.4 L593.9 469.9 L586.1 472.4 L578.5 474.8 L571.1 477.3 L563.8 479.8 L556.8 482.3 L549.9 484.7 L543.1 487.2 L536.6 489.7 L530.2 492.1 L523.9 494.6 L517.8 497.1 L511.9 499.5 L506.1 502 L500.4 504.5 L494.9 507 L489.6 509.4 L484.3 511.9 L479.2 514.4 L474.2 516.8 L469.4 519.3 L464.7 521.8 L459.4 524.3 L454.4 526.8 L449.5 529.3 L444.8 531.7 L440.2 534.2 L435.8 536.6 L431.7 539 L427.7 541.5 L423.8 544 L420 546.4 L416.4 548.9 L412.8 551.4 L409.4 553.8 L406 556.3 L402.9 558.7 L399.9 561.2 L397 563.6 L394.2 566.1 L391.5 568.6 L388.8 571 L386.2 573.5 L383.7 576 L381.2 578.4 L378.8 580.9 L376.5 583.4 L374.2 585.9 L372 588.3 L369.9 590.8 L367.8 593.3 L365.8 595.7 L363.9 598.2 L362 600.7 L360.1 603.1 L358.3 605.6 L356.6 608.1 L354.9 610.5 L353.2 613 L351.7 615.5 L350.2 617.9 L348.7 620.4 L347.3 622.9 L345.9 625.4 L344.6 627.8 L343.2 630.3 L342 632.8 L340.7 635.3 L339.5 637.7 L338.4 640.2 L337.2 642.7 L336.1 645.1 L335 647.6 L334 650.1 L332.9 652.6 L331.9 655 L331 657.5 L330 660 L329.1 662.5 L328.2 664.9 L327.4 667.4 L326.5 669.9 L325.7 672.4 L324.9 674.8 L324.1 677.3 L323.4 679.8 L322.6 682.3 L321.9 684.8 L321.2 687.2 L320.6 689.7 L319.9 692.2 L319.3 694.7 L318.6 697.1 L318 699.6 L317.4 702.1 L316.9 704.6 L316.3 707.1 L315.8 709.6 L315.2 712 L314.7 714.5 L314.2 717 L313.7 719.5 L313.2 722 L312.8 724.5 L312.3 726.9 L311.9 729.4 L311.4 731.9 L311 734.4 L310.6 736.9 L310.2 739.4 L309.8 741.9 L309.4 744.4 L309 746.9 L308.7 749.3 L308.3 751.8 L307.9 754.3 L307.6 756.8 L307.3 759.3 L306.9 761.8 L306.6 764.3 L306.3 766.8 L306 769.3 L305.7 771.8 L305.4 774.3 L305.1 776.8 L304.8 779.3 L304.5 781.8 L304.2 784.3 L303.9 786.8 L303.7 789.3 L303.4 791.8 L303.1 794.3 L302.9 796.8 L302.6 799.3 L302.3 801.8 L302.1 804.3 L301.8 806.8 L301.6 809.3 L301.4 811.8 L301.1 814.3 L300.9 816.8 L300.7 819.3 L300.4 821.8 L300.2 824.3 L300 826.8 L299.7 829.3 L299.5 831.8 L299.3 834.3 L299.1 836.8 L298.9 839.3 L298.6 841.8 L298.4 844.3 L298.2 846.8 L298 849.3 L297.8 851.8 L297.6 854.3 L297.4 856.8 L297.2 859.3 L297 861.8 L296.8 864.3 L296.6 866.8 L296.4 869.3 L296.2 871.8 L296 874.3 L295.8 876.8 L295.5 879.3 L295.3 881.8 L295.1 884.3 L294.9 886.8 L294.7 889.4 L294.5 891.9 L294.3 894.4 L294.1 897 L293.9 899.5 L293.7 902.1 L293.5 904.6 L293.3 907.2 L293.1 909.7 L292.9 912.3 L292.7 914.9 L292.5 917.4 L292.3 920 L292.1 922.6 L291.9 925.2 L291.7 927.7 L291.5 930.3 L291.3 932.9 L291.1 935.5 L290.9 938.1 L290.7 940.7 L290.5 943.3 L290.3 945.8 L290.1 948.4 L289.9 951 L289.7 953.6 L289.5 956.2 L289.3 958.8 L289.1 961.4 L288.9 964 L288.7 966.6 L288.5 969.2 L288.3 971.8 L288.1 974.4 L287.9 977 L287.7 979.6 L287.5 982.2 L287.3 984.8 L287.1 987.3 L286.9 989.9 L286.7 992.5 L286.5 995.1 L286.3 997.7 L286.1 1000.3 L285.9 1002.9 L285.7 1005.5 L285.5 1008.1 L285.3 1010.7 L285.1 1013.3 L284.9 1015.9 L284.7 1018.5 L284.5 1021.1 L284.3 1023.7 L284.1 1026.3 L283.9 1028.9 L283.7 1031.5 L283.5 1034.1 L283.3 1036.7 L283.1 1039.3 L282.9 1041.9 L282.7 1044.5 L282.5 1047.1 L282.3 1049.7 L282.1 1052.3 L281.9 1054.9 L281.8 1057.5 L281.6 1060Z"/>
</g>
<g id="K2">
<path class="sr" marker-start="url(#sq-r)" marker-mid="url(#sq-r)" marker-end="url(#sq-r)" d="M295.1 661 311.3 567.5 328 523.6 344.2 494.9 361.1 472.9 378.1 456.4 394.7 442.6 411.3 431.2 427.9 420.2 444.5 410.9 461.1 402.5 477.7 395.6 494.3 388.8 510.9 382.6 527.5 376.9 544.1 371.9 560.7 367.2 577.3 362.7 593.9 358.5 610.5 355 627.1 352 643.7 349.6 660.3 346.2 676.9 343.5 693.5 341.7 710.1 339.5 726.7 337.6"/>
<path class="sr" marker-start="url(#ci-b)" marker-mid="url(#ci-b)" marker-end="url(#ci-b)" d="M296 633.7 316.5 542.3 334.2 499.5 352.4 470.5 370.8 450.3 389.3 433 407.8 419.5 426.4 407.6 444.9 397 463.4 388 481.9 379.4 500.4 372.5 519 365.4 537.5 358.5 556 352.7 574.5 347.7 593 342.9 611.6 338.4 630.1 334.2 648.6 330.1 667.1 326.3 685.6 322.6 704.2 319.1 722.7 315.7"/>
<path class="sr" marker-start="url(#up-m)" marker-mid="url(#up-m)" marker-end="url(#up-m)" d="M297 631.4 315.5 540.6 334.1 498.1 352.6 470 371.1 448.6 389.6 431.3 408.1 417.8 426.7 405.9 445.2 395.3 463.7 386.3 482.2 377.7 500.7 370.8 519.3 363.7 537.8 356.8 556.3 351 574.8 346 593.3 341.2 611.9 336.7 630.4 332.5 648.9 328.4 667.4 324.6 685.9 320.9 704.5 317.4 723 314 741.5 310.7 760 307.6 778.5 302.4 797.1 299.2 815.6 296.2 834.1 293.4 852.6 290.6 871.1 287.8 889.7 285.2 908.2 282.6 926.7 280.1 945.2 277.6 963.7 275.2"/>
<path class="sr" marker-start="url(#dn-o)" marker-mid="url(#dn-o)" marker-end="url(#dn-o)" d="M300.7 607 322.7 525.9 344.5 486.1 366.5 458.9 389.6 438.6 411.9 421.6 434.1 408.5 456.3 397.2 478.6 387.1 500.8 378.2 523 370.3 545.3 362.7 567.5 356.4 589.7 350.6 612 345.2 634.2 340.1 656.4 335.4 678.6 330.8 700.9 326.6 723.1 322.5 745.3 318.9 767.6 315.4 789.8 312.1 812 309.3 834.2 306.6 856.5 303.9 878.7 301.4 900.9 299 923.2 297.1 945.4 295.4 967.6 293.8 989.9 292.2 1012.1 291.2"/>
<path class="sr" marker-start="url(#di-g)" marker-mid="url(#di-g)" marker-end="url(#di-g)" d="M300.7 610 323 531 345 491.4 367 465.1 389.6 444.9 411.9 428.9 434.1 416.5 456.3 405.3 478.6 395.1 500.8 386.2 523 377.5 545.3 370.7 567.5 364.4 589.7 358.6 612 353.2 634.2 348.1 656.4 343.4 678.6 338.8 700.9 334.6 723.1 331 745.3 326.9 767.6 323.1 789.8 320 812 317 834.2 314.2 856.5 311.7 878.7 309.2 900.9 306.9 923.2 305.1 945.4 303.4 967.6 301.7 989.9 300.2 1012.1 298.4 1034.3 296.6 1056.6 294.9 1078.8 293.2 1101 291.5"/>
<path class="cv" d="M278.5 1057 L278.7 1051.6 L278.9 1046.2 L279.1 1040.8 L279.3 1035.4 L279.5 1029.9 L279.7 1024.5 L279.9 1019.1 L280.1 1013.7 L280.3 1008.3 L280.5 1002.9 L280.7 997.5 L280.9 992.1 L281.1 986.7 L281.3 981.3 L281.5 975.8 L281.7 970.4 L281.9 965 L282.1 959.6 L282.3 954.2 L282.5 948.8 L282.7 943.4 L282.9 938 L283.1 932.6 L283.3 927.1 L283.5 921.7 L283.7 916.3 L283.9 910.9 L284.1 905.5 L284.3 900.1 L284.5 894.7 L284.7 889.3 L284.9 883.9 L285.1 878.5 L285.3 873.1 L285.5 867.6 L285.7 862.2 L285.9 856.8 L286.1 851.4 L286.3 846 L286.5 840.7 L286.7 835.3 L286.9 829.9 L287.1 824.5 L287.3 819.1 L287.5 813.8 L287.7 808.4 L287.9 803.1 L288.1 797.7 L288.3 792.4 L288.5 787.1 L288.7 781.9 L288.9 776.6 L289.1 771.4 L289.3 766.2 L289.5 761.1 L289.7 755.9 L289.9 750.9 L290.1 745.8 L290.3 740.9 L290.5 736 L290.7 731.1 L290.9 726.4 L291.1 721.7 L291.3 717 L291.5 712.5 L291.7 708 L291.9 703.7 L292.1 699.4 L292.3 695.2 L292.5 691.2 L292.7 687.2 L292.9 683.3 L293.1 679.5 L293.3 675.9 L293.5 672.3 L293.7 668.8 L293.9 665.4 L294.1 662.1 L294.3 658.9 L294.5 655.8 L294.7 652.8 L294.9 649.9 L295.1 647.1 L295.3 644.3 L295.5 641.6 L295.7 639 L295.9 636.5 L296.1 633.9 L296.3 631.4 L296.5 628.9 L296.7 626.4 L297 623.9 L297.2 621.4 L297.5 618.9 L297.7 616.4 L298 613.9 L298.2 611.4 L298.5 608.9 L298.8 606.4 L299.1 603.9 L299.4 601.4 L299.7 599 L300 596.5 L300.4 594 L300.7 591.5 L301.1 589 L301.4 586.5 L301.8 584 L302.2 581.5 L302.6 579.1 L303 576.6 L303.5 574.1 L303.9 571.6 L304.4 569.1 L304.9 566.7 L305.4 564.2 L305.9 561.7 L306.5 559.2 L307 556.8 L307.6 554.3 L308.2 551.8 L308.9 549.3 L309.5 546.9 L310.2 544.4 L310.9 541.9 L311.6 539.5 L312.4 537 L313.2 534.5 L314 532 L314.8 529.6 L315.7 527.1 L316.6 524.6 L317.6 522.2 L318.5 519.7 L319.5 517.2 L320.6 514.8 L321.7 512.3 L322.8 509.8 L324 507.4 L325.2 504.9 L326.4 502.5 L327.7 500 L329.1 497.5 L330.5 495.1 L331.9 492.6 L333.4 490.1 L335 487.7 L336.6 485.2 L338.3 482.8 L340 480.3 L341.8 477.8 L343.7 475.4 L345.6 472.9 L347.6 470.4 L349.7 468 L351.8 465.5 L354 463.1 L356.3 460.6 L358.7 458.1 L361.1 455.7 L363.7 453.2 L366.3 450.7 L369 448.3 L371.9 445.8 L374.8 443.4 L377.8 440.9 L380.9 438.4 L384.1 436 L387.5 433.5 L390.9 431.1 L394.5 428.6 L398.2 426.1 L402 423.7 L406 421.2 L410 418.8 L414.3 416.3 L418.6 413.8 L423.1 411.4 L427.8 408.9 L432.6 406.4 L437.5 404 L442.7 401.5 L447.9 399.1 L453.4 396.6 L459.1 394.1 L464.9 391.7 L470.9 389.2 L477.1 386.7 L483.5 384.3 L490.2 381.8 L497 379.4 L504 376.9 L511.3 374.4 L518.8 372 L526.5 369.5 L534.5 367 L542.5 364.7 L550.5 362.3 L558.5 360.1 L566.5 357.9 L574.5 355.7 L582.5 353.6 L590.5 351.6 L598.5 349.6 L606.5 347.7 L614.5 345.8 L622.5 344 L630.5 342.1 L638.5 340.4 L646.5 338.6 L654.5 337 L662.5 335.3 L670.5 333.7 L678.5 332.1 L686.5 330.5 L694.5 329 L702.5 327.4 L710.5 326 L718.5 324.5 L726.5 323.1 L734.5 321.6 L742.5 320.3 L750.5 318.9 L758.5 317.6 L766.5 316.2 L774.5 314.9 L782.5 313.6 L790.5 312.4 L798.5 311.1 L806.5 309.9 L814.5 308.7 L822.5 307.5 L830.5 306.3 L838.5 305.2 L846.5 304 L854.5 302.9 L862.5 301.8 L870.5 300.7 L878.5 299.6 L886.5 298.5 L894.5 297.4 L902.5 296.4 L910.5 295.4 L918.5 294.3 L926.5 293.3 L934.5 292.3 L942.5 291.3 L950.5 290.3 L958.5 289.4 L966.5 288.4 L974.5 287.5 L982.5 286.5 L990.5 285.6 L998.5 284.7 L1006.5 283.8 L1014.5 282.9 L1022.5 282 L1030.5 281.1 L1038.5 280.2 L1046.5 279.4 L1054.5 278.5 L1062.5 277.7 L1070.5 276.8 L1078.5 276 L1086.5 275.2 L1094.5 274.3 L1102.5 273.5 L1110.5 272.7 L1118.5 271.9 L1126.5 271.2 L1134.5 270.4 L1142.5 269.6 L1150.5 268.8 L1158.5 268.1 L1163 267.6"/>
<path fill="#000" d="M275.4 1054 L275.6 1048.5 L275.8 1043.1 L276 1037.7 L276.2 1032.3 L276.4 1026.9 L276.6 1021.5 L276.8 1016.1 L277 1010.7 L277.2 1005.3 L277.4 999.8 L277.6 994.4 L277.8 989 L278 983.6 L278.2 978.2 L278.4 972.8 L278.6 967.4 L278.8 962 L279 956.6 L279.2 951.1 L279.4 945.7 L279.6 940.3 L279.8 934.9 L280 929.5 L280.2 924.1 L280.4 918.7 L280.6 913.3 L280.8 907.9 L281 902.5 L281.2 897 L281.4 891.6 L281.6 886.2 L281.8 880.8 L282 875.4 L282.2 870 L282.4 864.6 L282.6 859.2 L282.8 853.8 L283 848.4 L283.2 843 L283.4 837.6 L283.6 832.2 L283.8 826.8 L284 821.4 L284.2 816.1 L284.4 810.7 L284.6 805.4 L284.8 800 L285 794.7 L285.2 789.4 L285.4 784.1 L285.6 778.8 L285.8 773.6 L286 768.3 L286.2 763.2 L286.4 758 L286.6 752.9 L286.8 747.8 L287 742.8 L287.2 737.8 L287.4 732.9 L287.6 728.1 L287.8 723.3 L288 718.6 L288.2 714 L288.4 709.4 L288.6 705 L288.8 700.6 L289 696.4 L289.2 692.2 L289.4 688.1 L289.6 684.1 L289.8 680.3 L290 676.5 L290.2 672.8 L290.4 669.2 L290.6 665.8 L290.8 662.4 L291 659.1 L291.2 655.9 L291.4 652.8 L291.6 649.8 L291.8 646.8 L292 644 L292.2 641.2 L292.4 638.6 L292.6 635.9 L292.8 633.4 L293.1 630.9 L293.3 628.4 L293.5 625.9 L293.7 623.4 L293.9 620.9 L294.2 618.4 L294.4 615.9 L294.7 613.4 L294.9 610.9 L295.2 608.4 L295.5 605.9 L295.7 603.4 L296 600.9 L296.3 598.4 L296.6 595.9 L297 593.4 L297.3 590.9 L297.6 588.4 L298 586 L298.4 583.5 L298.8 581 L299.2 578.5 L299.6 576 L300 573.5 L300.4 571.1 L300.9 568.6 L301.4 566.1 L301.9 563.6 L302.4 561.1 L302.9 558.7 L303.4 556.2 L304 553.7 L304.6 551.2 L305.2 548.8 L305.8 546.3 L306.5 543.8 L307.2 541.3 L307.9 538.9 L308.6 536.4 L309.3 533.9 L310.1 531.5 L310.9 529 L311.8 526.5 L312.7 524.1 L313.6 521.6 L314.5 519.1 L315.5 516.7 L316.5 514.2 L317.5 511.7 L318.6 509.3 L319.8 506.8 L320.9 504.3 L322.1 501.9 L323.4 499.4 L324.7 496.9 L326 494.5 L327.4 492 L328.9 489.6 L330.4 487.1 L332 484.6 L333.6 482.2 L335.2 479.7 L337 477.2 L338.8 474.8 L340.6 472.3 L342.6 469.9 L344.5 467.4 L346.6 464.9 L348.8 462.5 L351 460 L353.3 457.5 L355.6 455.1 L358.1 452.6 L360.6 450.2 L363.3 447.7 L366 445.2 L368.8 442.8 L371.7 440.3 L374.7 437.9 L377.9 435.4 L381.1 432.9 L384.4 430.5 L387.9 428 L391.5 425.5 L395.1 423.1 L399 420.6 L402.9 418.2 L407 415.7 L411.2 413.2 L415.6 410.8 L420.1 408.3 L424.7 405.9 L429.5 403.4 L434.5 400.9 L439.6 398.5 L444.9 396 L450.4 393.5 L456 391.1 L461.8 388.6 L467.9 386.2 L474.1 383.7 L480.5 381.2 L487.1 378.8 L493.9 376.3 L501 373.8 L508.3 371.4 L515.8 368.9 L523.5 366.5 L531.5 364 L539.5 361.6 L547.5 359.3 L555.5 357 L563.5 354.8 L571.5 352.7 L579.5 350.6 L587.5 348.6 L595.5 346.6 L603.5 344.6 L611.5 342.8 L619.5 340.9 L627.5 339.1 L635.5 337.3 L643.5 335.6 L651.5 333.9 L659.5 332.2 L667.5 330.6 L675.5 329 L683.5 327.4 L691.5 325.9 L699.5 324.4 L707.5 322.9 L715.5 321.4 L723.5 320 L731.5 318.6 L739.5 317.2 L747.5 315.8 L755.5 314.5 L763.5 313.2 L771.5 311.9 L779.5 310.6 L787.5 309.3 L795.5 308.1 L803.5 306.9 L811.5 305.6 L819.5 304.5 L827.5 303.3 L835.5 302.1 L843.5 301 L851.5 299.8 L859.5 298.7 L867.5 297.6 L875.5 296.5 L883.5 295.5 L891.5 294.4 L899.5 293.3 L907.5 292.3 L915.5 291.3 L923.5 290.3 L931.5 289.3 L939.5 288.3 L947.5 287.3 L955.5 286.3 L963.5 285.4 L971.5 284.4 L979.5 283.5 L987.5 282.6 L995.5 281.6 L1003.5 280.7 L1011.5 279.8 L1019.5 278.9 L1027.5 278.1 L1035.5 277.2 L1043.5 276.3 L1051.5 275.5 L1059.5 274.6 L1067.5 273.8 L1075.5 272.9 L1083.5 272.1 L1091.5 271.3 L1099.5 270.5 L1107.5 269.7 L1115.5 268.9 L1123.5 268.1 L1131.5 267.3 L1139.5 266.5 L1147.5 265.8 L1155.5 265 L1160 264.6 L1166 270.7 L1161.6 271.1 L1153.6 271.9 L1145.6 272.6 L1137.6 273.4 L1129.6 274.2 L1121.6 275 L1113.6 275.8 L1105.6 276.6 L1097.6 277.4 L1089.6 278.2 L1081.6 279 L1073.6 279.9 L1065.6 280.7 L1057.6 281.6 L1049.6 282.4 L1041.6 283.3 L1033.6 284.2 L1025.6 285 L1017.6 285.9 L1009.6 286.8 L1001.6 287.7 L993.6 288.7 L985.6 289.6 L977.6 290.5 L969.6 291.5 L961.6 292.4 L953.6 293.4 L945.6 294.4 L937.6 295.4 L929.6 296.4 L921.6 297.4 L913.6 298.4 L905.6 299.4 L897.6 300.5 L889.6 301.6 L881.6 302.6 L873.6 303.7 L865.6 304.8 L857.6 305.9 L849.6 307.1 L841.6 308.2 L833.6 309.4 L825.6 310.6 L817.6 311.7 L809.6 313 L801.6 314.2 L793.6 315.4 L785.6 316.7 L777.6 318 L769.6 319.3 L761.6 320.6 L753.6 321.9 L745.6 323.3 L737.6 324.7 L729.6 326.1 L721.6 327.5 L713.6 329 L705.6 330.5 L697.6 332 L689.6 333.5 L681.6 335.1 L673.6 336.7 L665.6 338.3 L657.6 340 L649.6 341.7 L641.6 343.4 L633.6 345.2 L625.6 347 L617.6 348.9 L609.6 350.7 L601.6 352.7 L593.6 354.7 L585.6 356.7 L577.6 358.8 L569.6 360.9 L561.6 363.1 L553.6 365.4 L545.6 367.7 L537.6 370.1 L529.6 372.6 L521.9 375 L514.4 377.5 L507.1 379.9 L500 382.4 L493.2 384.9 L486.6 387.3 L480.2 389.8 L474 392.3 L467.9 394.7 L462.1 397.2 L456.5 399.6 L451 402.1 L445.7 404.6 L440.6 407 L435.6 409.5 L430.8 412 L426.2 414.4 L421.7 416.9 L417.3 419.3 L413.1 421.8 L409 424.3 L405.1 426.7 L401.2 429.2 L397.6 431.6 L394 434.1 L390.5 436.6 L387.2 439 L384 441.5 L380.8 444 L377.8 446.4 L374.9 448.9 L372.1 451.3 L369.4 453.8 L366.7 456.3 L364.2 458.7 L361.7 461.2 L359.4 463.6 L357.1 466.1 L354.9 468.6 L352.7 471 L350.6 473.5 L348.7 476 L346.7 478.4 L344.9 480.9 L343.1 483.3 L341.3 485.8 L339.7 488.3 L338.1 490.7 L336.5 493.2 L335 495.7 L333.5 498.1 L332.1 500.6 L330.8 503 L329.5 505.5 L328.2 508 L327 510.4 L325.9 512.9 L324.7 515.4 L323.6 517.8 L322.6 520.3 L321.6 522.8 L320.6 525.2 L319.7 527.7 L318.8 530.2 L317.9 532.6 L317 535.1 L316.2 537.6 L315.4 540 L314.7 542.5 L314 545 L313.3 547.4 L312.6 549.9 L311.9 552.4 L311.3 554.9 L310.7 557.3 L310.1 559.8 L309.5 562.3 L309 564.8 L308.5 567.2 L308 569.7 L307.5 572.2 L307 574.7 L306.5 577.2 L306.1 579.6 L305.7 582.1 L305.3 584.6 L304.9 587.1 L304.5 589.6 L304.1 592.1 L303.7 594.5 L303.4 597 L303.1 599.5 L302.7 602 L302.4 604.5 L302.1 607 L301.8 609.5 L301.6 612 L301.3 614.5 L301 617 L300.8 619.5 L300.5 622 L300.3 624.5 L300 627 L299.8 629.5 L299.6 632 L299.4 634.5 L299.2 637 L298.9 639.5 L298.7 642 L298.5 644.7 L298.3 647.3 L298.1 650.1 L297.9 652.9 L297.7 655.9 L297.5 658.9 L297.3 662 L297.1 665.2 L296.9 668.5 L296.7 671.9 L296.5 675.3 L296.3 678.9 L296.1 682.6 L295.9 686.4 L295.7 690.2 L295.5 694.2 L295.3 698.3 L295.1 702.5 L294.9 706.7 L294.7 711.1 L294.5 715.5 L294.3 720.1 L294.1 724.7 L293.9 729.4 L293.7 734.2 L293.5 739 L293.3 743.9 L293.1 748.9 L292.9 753.9 L292.7 759 L292.5 764.1 L292.3 769.3 L292.1 774.4 L291.9 779.7 L291.7 784.9 L291.5 790.2 L291.3 795.5 L291.1 800.8 L290.9 806.1 L290.7 811.5 L290.5 816.8 L290.3 822.2 L290.1 827.5 L289.9 832.9 L289.7 838.3 L289.5 843.7 L289.3 849.1 L289.1 854.5 L288.9 859.9 L288.7 865.3 L288.5 870.7 L288.3 876.1 L288.1 881.5 L287.9 886.9 L287.7 892.3 L287.5 897.7 L287.3 903.1 L287.1 908.6 L286.9 914 L286.7 919.4 L286.5 924.8 L286.3 930.2 L286.1 935.6 L285.9 941 L285.7 946.4 L285.5 951.8 L285.3 957.2 L285.1 962.7 L284.9 968.1 L284.7 973.5 L284.5 978.9 L284.3 984.3 L284.1 989.7 L283.9 995.1 L283.7 1000.5 L283.5 1005.9 L283.3 1011.4 L283.1 1016.8 L282.9 1022.2 L282.7 1027.6 L282.5 1033 L282.3 1038.4 L282.1 1043.8 L281.9 1049.2 L281.8 1054.6 L281.6 1060Z"/>
</g>
<g id="K1">
<path class="sr" marker-start="url(#sq-r)" marker-mid="url(#sq-r)" marker-end="url(#sq-r)" d="M278.5 1040 278.5 1005 361 402.5"/>
<path class="sr" marker-start="url(#ci-b)" marker-mid="url(#ci-b)" marker-end="url(#ci-b)" d="M280 987 280 987"/>
<path class="sr" marker-start="url(#up-m)" marker-mid="url(#up-m)" marker-end="url(#up-m)" d="M278.5 1057 297 493 315.5 430 334.1 398 352.6 374 371.1 357.7 389.6 343.3 408.1 329.4 426.7 319.7 445.2 311.8 463.7 303.7 482.2 296.7 500.7 291.4 519.3 286.3 537.8 281.6 556.3 277.2 574.8 273.1 593.3 269.2 611.9 265.5 630.4 262 648.9 258.7 667.4 256.9 685.9 255.1 704.5 252.5 723 250 741.5 247.7 760 245.5 778.5 243.6 797.1 241.7 815.6 240.4 834.1 239.2"/>
<path class="sr" marker-start="url(#dn-g)" marker-mid="url(#dn-g)" marker-end="url(#dn-g)" d="M278.5 1057 278.5 992.8 279.2 934.7 280.6 876.9 281.2 820.7 283 766.7 284 718 284.3 676 284.6 642.5 285 617 287.6 596.4 288.9 580.6 290 568.5 290.8 558.8 291.4 550.9 291.9 544.6 292.5 538.5 293 532.5 293.6 526.7 294.2 521 294.8 515.5 295.5 510.1 296.2 505 296.9 500 297.6 495.2 298.4 490.6 299.2 486.3 300 482.2 300.8 478.3 301.7 474.3 302.7 470.5 303.8 466.6 305 462.8 306.2 459 307.6 455.2 309 451.5 310.6 447.9 312.4 444.3 314.3 440.7 316.3 437.3 318.4 433.9 319.9 430.2 321.5 426.5 323.3 422.9 325.1 419.3 327 415.8 329 412.3 331 408.9 333.2 405.5 335.4 402.2 337.7 398.9 340.1 395.7 342.5 392.6 345.1 389.5 347.7 386.5 350.4 383.5 353 380.5 355.7 377.6 358.5 374.7 361.4 371.9 364.3 369.1 367.2 366.4 370.2 363.8 373.3 361.2 376.4 358.7 379.5 356.2 382.7 353.8 385.9 351.4 389.1 349 392.4 346.8 395.8 344.5 399.1 342.4 402.5 340.2 405.9 338.1 409.3 336.1 412.8 334.1 416.3 332.1 419.8 330.2 423.3 328.3 426.8 326.4 430.4 324.6 434 322.8 437.7 321.2 441.3 319.6 445 318.1 448.7 316.5 452.4 315 456.1 313.6 459.9 312.1 463.6 310.8 467.4 309.5 471.2 308.3 475 307.1 478.9 305.8 482.7 304.6 486.5 303.5 490.3 302.3 494.2 301.2 498 300.1 501.8 299 505.7 297.9 509.6 296.8 513.4 295.8 517.3 294.8 521.1 293.7 525 292.7 528.9 291.7 532.8 290.8 536.7 289.8 540.5 288.8 544.4 287.9 548.3 287 552.2 286.1 556.1 285.2 560 284.3 563.9 283.4 567.8 282.5 571.7 281.7 575.6 280.9 579.6 280.1 583.5 279.3 587.4 278.5 591.3 277.8 595.3 277 599.2 276.3 603.1 275.6 607.1 274.9 611 274.2 614.9 273.5 618.9 272.8 622.8 272.1 626.8 271.4 630.7 270.7 634.7 270.1 638.6 269.4 642.6 268.8 646.5 268.2 650.5 267.5 654.4 266.9 658.4 266.3 662.3 265.7 666.3 265.1 670.2 264.5 674.2 263.9 678.1 263.4 682.1 262.8 686.1 262.2 690 261.7 694 261.1 697.9 260.6 701.9 260 706.1 259.4 710.9 258.7 716.3 258 722.4 257.2 729.3 256.2 737.2 255.1 746.5 253.8 757.7 252.3 771.1 250.6 788.4 248.8 809.3 247.3"/>
<path class="sr" marker-start="url(#di-o)" marker-mid="url(#di-o)" marker-end="url(#di-o)" d="M278.5 1043.5 300.7 485 322.9 426 344.9 393.9 367.4 372.9 389.6 357.1 411.9 343.2 434.1 331.7 456.3 322.9 478.6 315.2 500.8 307.7 523 300.8 545.3 295.6 567.5 290.9 589.7 286.7 612 282.1 634.2 277.7 656.4 274.2 678.6 270.4 700.9 267.3 723.1 264.4 745.3 262.1 767.6 259.6 789.8 256.4 812 254.3 834.2 252.9"/>
<path class="cv" d="M278.5 1057 L278.7 1046.2 L278.9 1035.4 L279.1 1024.5 L279.3 1013.7 L279.5 1002.9 L279.7 992.1 L279.9 981.3 L280.1 970.4 L280.3 959.6 L280.5 948.8 L280.7 938 L280.9 927.2 L281.1 916.4 L281.3 905.5 L281.5 894.7 L281.7 883.9 L281.9 873.1 L282.1 862.3 L282.3 851.4 L282.5 840.6 L282.7 829.8 L282.9 819 L283.1 808.2 L283.3 797.4 L283.5 786.6 L283.7 775.7 L283.9 765 L284.1 754.2 L284.3 743.4 L284.5 732.7 L284.7 722 L284.9 711.4 L285.1 700.8 L285.3 690.4 L285.5 680.1 L285.7 670 L285.9 660.1 L286.1 650.5 L286.3 641.2 L286.5 632.2 L286.7 623.7 L286.9 615.6 L287.1 607.9 L287.3 600.7 L287.5 593.9 L287.7 587.6 L287.9 581.6 L288.1 576.1 L288.3 570.8 L288.5 565.9 L288.7 561.3 L288.9 557 L289.1 553 L289.3 549.1 L289.5 545.5 L289.7 542 L289.9 538.8 L290.1 535.7 L290.3 532.7 L290.5 529.9 L290.7 527.2 L290.9 524.6 L291.1 522.1 L291.3 519.6 L291.5 517.1 L291.8 514.6 L292 512.1 L292.3 509.6 L292.5 507.1 L292.8 504.6 L293.1 502.1 L293.4 499.6 L293.7 497.1 L294 494.6 L294.3 492.1 L294.7 489.6 L295.1 487.1 L295.4 484.7 L295.9 482.2 L296.3 479.7 L296.7 477.2 L297.2 474.8 L297.7 472.3 L298.2 469.8 L298.7 467.3 L299.2 464.9 L299.8 462.4 L300.4 459.9 L301 457.5 L301.7 455 L302.4 452.5 L303.1 450.1 L303.8 447.6 L304.6 445.1 L305.4 442.7 L306.3 440.2 L307.2 437.8 L308.1 435.3 L309 432.8 L310.1 430.4 L311.1 427.9 L312.2 425.5 L313.4 423 L314.6 420.5 L315.8 418.1 L317.1 415.6 L318.5 413.2 L319.9 410.7 L321.4 408.3 L323 405.8 L324.6 403.4 L326.3 400.9 L328.1 398.4 L329.9 396 L331.8 393.5 L333.8 391.1 L335.9 388.6 L338.1 386.2 L340.4 383.7 L342.7 381.3 L345.2 378.8 L347.8 376.4 L350.5 373.9 L353.3 371.5 L356.2 369 L359.2 366.5 L362.3 364.1 L365.6 361.6 L369 359.2 L372.6 356.7 L376.3 354.3 L380.2 351.8 L384.2 349.4 L388.4 346.9 L392.7 344.5 L397.2 342 L401.9 339.6 L406.8 337.1 L411.9 334.6 L417.2 332.2 L422.7 329.7 L428.5 327.3 L434.4 324.8 L440.6 322.4 L447 319.9 L453.7 317.5 L460.6 315 L467.8 312.6 L475.3 310.1 L483.1 307.7 L491.1 305.2 L499.1 302.9 L507.1 300.6 L515.1 298.4 L523.1 296.3 L531.1 294.3 L539.1 292.3 L547.1 290.3 L555.1 288.5 L563.1 286.6 L571.1 284.9 L579.1 283.1 L587.1 281.5 L595.1 279.8 L603.1 278.2 L611.1 276.6 L619.1 275.1 L627.1 273.6 L635.1 272.1 L643.1 270.7 L651.1 269.3 L659.1 267.9 L667.1 266.6 L675.1 265.2 L683.1 264 L691.1 262.7 L699.1 261.4 L707.1 260.2 L715.1 259 L723.1 257.8 L731.1 256.6 L739.1 255.5 L747.1 254.4 L755.1 253.3 L763.1 252.2 L771.1 251.1 L779.1 250 L787.1 249 L795.1 248 L803.1 246.9 L811.1 245.9 L819.1 245 L827.1 244 L835.1 243 L843.1 242.1 L851.1 241.2 L859.1 240.2 L867.1 239.3 L875.1 238.4 L883.1 237.5 L891.1 236.7 L899.1 235.8 L907.1 235 L915 234.1"/>
<path fill="#000" d="M275.4 1054 L275.6 1043.1 L275.8 1032.3 L276 1021.5 L276.2 1010.7 L276.4 999.9 L276.6 989 L276.8 978.2 L277 967.4 L277.2 956.6 L277.4 945.8 L277.6 934.9 L277.8 924.1 L278 913.3 L278.2 902.5 L278.4 891.7 L278.6 880.8 L278.8 870 L279 859.2 L279.2 848.4 L279.4 837.6 L279.6 826.8 L279.8 815.9 L280 805.1 L280.2 794.3 L280.4 783.5 L280.6 772.7 L280.8 761.9 L281 751.1 L281.2 740.4 L281.4 729.6 L281.6 719 L281.8 708.3 L282 697.8 L282.2 687.4 L282.4 677.1 L282.6 666.9 L282.8 657 L283 647.4 L283.2 638.1 L283.4 629.2 L283.6 620.7 L283.8 612.6 L284 604.9 L284.2 597.7 L284.4 590.9 L284.6 584.5 L284.8 578.6 L285 573 L285.2 567.8 L285.4 562.9 L285.6 558.3 L285.8 554 L286 549.9 L286.2 546.1 L286.4 542.4 L286.6 539 L286.8 535.7 L287 532.6 L287.2 529.6 L287.4 526.8 L287.6 524.1 L287.8 521.5 L288.1 519 L288.3 516.5 L288.5 514 L288.7 511.5 L289 509 L289.2 506.5 L289.5 504 L289.7 501.5 L290 499 L290.3 496.5 L290.6 494 L291 491.6 L291.3 489.1 L291.6 486.6 L292 484.1 L292.4 481.6 L292.8 479.1 L293.2 476.7 L293.7 474.2 L294.1 471.7 L294.6 469.2 L295.1 466.8 L295.6 464.3 L296.2 461.8 L296.7 459.4 L297.3 456.9 L298 454.4 L298.6 452 L299.3 449.5 L300 447 L300.8 444.6 L301.5 442.1 L302.4 439.6 L303.2 437.2 L304.1 434.7 L305 432.3 L306 429.8 L307 427.3 L308.1 424.9 L309.2 422.4 L310.3 420 L311.5 417.5 L312.8 415 L314.1 412.6 L315.5 410.1 L316.9 407.7 L318.4 405.2 L319.9 402.8 L321.6 400.3 L323.3 397.9 L325 395.4 L326.9 392.9 L328.8 390.5 L330.8 388 L332.9 385.6 L335.1 383.1 L337.3 380.7 L339.7 378.2 L342.2 375.8 L344.7 373.3 L347.4 370.9 L350.2 368.4 L353.1 365.9 L356.1 363.5 L359.3 361 L362.6 358.6 L366 356.1 L369.6 353.7 L373.3 351.2 L377.1 348.8 L381.1 346.3 L385.3 343.9 L389.7 341.4 L394.2 339 L398.9 336.5 L403.8 334.1 L408.9 331.6 L414.2 329.1 L419.7 326.7 L425.4 324.2 L431.4 321.8 L437.5 319.3 L444 316.9 L450.6 314.4 L457.6 312 L464.8 309.5 L472.3 307.1 L480.1 304.6 L488.1 302.2 L496.1 299.8 L504.1 297.6 L512.1 295.4 L520.1 293.3 L528.1 291.2 L536.1 289.2 L544.1 287.3 L552.1 285.4 L560.1 283.6 L568.1 281.8 L576.1 280.1 L584.1 278.4 L592.1 276.8 L600.1 275.2 L608.1 273.6 L616.1 272.1 L624.1 270.6 L632.1 269.1 L640.1 267.7 L648.1 266.2 L656.1 264.9 L664.1 263.5 L672.1 262.2 L680.1 260.9 L688.1 259.6 L696.1 258.4 L704.1 257.1 L712.1 255.9 L720.1 254.8 L728.1 253.6 L736.1 252.4 L744.1 251.3 L752.1 250.2 L760.1 249.1 L768.1 248 L776.1 247 L784.1 245.9 L792.1 244.9 L800.1 243.9 L808.1 242.9 L816.1 241.9 L824.1 240.9 L832.1 240 L840.1 239 L848.1 238.1 L856.1 237.2 L864.1 236.3 L872.1 235.4 L880.1 234.5 L888.1 233.6 L896.1 232.8 L904.1 231.9 L912 231.1 L918 237.2 L910.2 238 L902.2 238.9 L894.2 239.7 L886.2 240.6 L878.2 241.5 L870.2 242.4 L862.2 243.3 L854.2 244.2 L846.2 245.1 L838.2 246.1 L830.2 247 L822.2 248 L814.2 249 L806.2 250 L798.2 251 L790.2 252 L782.2 253.1 L774.2 254.1 L766.2 255.2 L758.2 256.3 L750.2 257.4 L742.2 258.5 L734.2 259.7 L726.2 260.9 L718.2 262 L710.2 263.2 L702.2 264.5 L694.2 265.7 L686.2 267 L678.2 268.3 L670.2 269.6 L662.2 271 L654.2 272.3 L646.2 273.8 L638.2 275.2 L630.2 276.7 L622.2 278.2 L614.2 279.7 L606.2 281.3 L598.2 282.9 L590.2 284.5 L582.2 286.2 L574.2 287.9 L566.2 289.7 L558.2 291.5 L550.2 293.4 L542.2 295.3 L534.2 297.3 L526.2 299.4 L518.2 301.5 L510.2 303.7 L502.2 305.9 L494.2 308.3 L486.2 310.7 L478.4 313.2 L470.9 315.6 L463.7 318.1 L456.7 320.5 L450.1 323 L443.6 325.4 L437.5 327.9 L431.5 330.3 L425.8 332.8 L420.3 335.2 L415 337.7 L409.9 340.2 L405 342.6 L400.3 345.1 L395.8 347.5 L391.4 350 L387.2 352.4 L383.2 354.9 L379.4 357.3 L375.7 359.8 L372.1 362.2 L368.7 364.7 L365.4 367.1 L362.2 369.6 L359.2 372 L356.3 374.5 L353.5 377 L350.8 379.4 L348.3 381.9 L345.8 384.3 L343.4 386.8 L341.2 389.2 L339 391.7 L336.9 394.1 L334.9 396.6 L333 399 L331.1 401.5 L329.4 404 L327.7 406.4 L326 408.9 L324.5 411.3 L323 413.8 L321.6 416.2 L320.2 418.7 L318.9 421.1 L317.6 423.6 L316.4 426.1 L315.3 428.5 L314.2 431 L313.1 433.4 L312.1 435.9 L311.1 438.4 L310.2 440.8 L309.3 443.3 L308.5 445.7 L307.6 448.2 L306.9 450.7 L306.1 453.1 L305.4 455.6 L304.7 458.1 L304.1 460.5 L303.4 463 L302.8 465.5 L302.3 467.9 L301.7 470.4 L301.2 472.9 L300.7 475.3 L300.2 477.8 L299.8 480.3 L299.3 482.8 L298.9 485.2 L298.5 487.7 L298.1 490.2 L297.7 492.7 L297.4 495.2 L297.1 497.7 L296.7 500.1 L296.4 502.6 L296.1 505.1 L295.8 507.6 L295.6 510.1 L295.3 512.6 L295.1 515.1 L294.8 517.6 L294.6 520.1 L294.4 522.6 L294.2 525.1 L293.9 527.6 L293.7 530.2 L293.5 532.9 L293.3 535.7 L293.1 538.7 L292.9 541.8 L292.7 545.1 L292.5 548.5 L292.3 552.2 L292.1 556 L291.9 560.1 L291.7 564.4 L291.5 569 L291.3 573.9 L291.1 579.1 L290.9 584.7 L290.7 590.6 L290.5 597 L290.3 603.8 L290.1 611 L289.9 618.7 L289.7 626.8 L289.5 635.3 L289.3 644.2 L289.1 653.5 L288.9 663.1 L288.7 673 L288.5 683.2 L288.3 693.5 L288.1 703.9 L287.9 714.4 L287.7 725.1 L287.5 735.7 L287.3 746.5 L287.1 757.2 L286.9 768 L286.7 778.8 L286.5 789.6 L286.3 800.4 L286.1 811.2 L285.9 822 L285.7 832.9 L285.5 843.7 L285.3 854.5 L285.1 865.3 L284.9 876.1 L284.7 886.9 L284.5 897.8 L284.3 908.6 L284.1 919.4 L283.9 930.2 L283.7 941 L283.5 951.9 L283.3 962.7 L283.1 973.5 L282.9 984.3 L282.7 995.1 L282.5 1006 L282.3 1016.8 L282.1 1027.6 L281.9 1038.4 L281.8 1049.2 L281.6 1060Z"/>
</g>
</g>
<g id="labels" font-size="49.3">
<text x="314.5" y="131.4" textLength="496.6" lengthAdjust="spacing">CHS <tspan class="i">W</tspan>=20 mm <tspan class="i">B</tspan>=3 mm</text>
<text x="929.2" y="220.9"><tspan class="i">K</tspan>=200 MPa <tspan class="i">N</tspan>=10</text>
<text x="1191.2" y="273.3"><tspan class="i">K</tspan>=400 MPa <tspan class="i">N</tspan>=8</text>
<text x="1309.2" y="367.7"><tspan class="i">K</tspan>=800 MPa <tspan class="i">N</tspan>=6</text>
<text x="1283.6" y="545.9"><tspan class="i">K</tspan>=1600 MPa <tspan class="i">N</tspan>=4</text>
<text x="1264.3" y="651.9"><tspan class="i">R/W</tspan>=0.4</text>
<text x="1264.3" y="714.2"><tspan class="i">R/W</tspan>=0.35</text>
<text x="1264.3" y="776.3"><tspan class="i">R/W</tspan>=0.3</text>
<text x="1264.3" y="838.7"><tspan class="i">R/W</tspan>=0.25</text>
<text x="1264.3" y="901.1"><tspan class="i">R/W</tspan>=0.2</text>
<text x="1264.4" y="962.5">Model curves</text>
</g>
<g id="legend">
<path class="mk sq" stroke="#ff0000" d="M1188 628h15.1v15.1h-15.1z"/>
<path class="mk" stroke="#0000ff" d="M1186.7 697.5a8.9 8.9 0 1 0 17.8 0a8.9 8.9 0 1 0 -17.8 0z"/>
<path class="mk" stroke="#ff00ff" d="M1195.6 747.4l11.4 19.8h-22.9z"/>
<path class="mk" stroke="#ff8000" d="M1195.6 835.5l11.4 -19.8h-22.9z"/>
<path class="mk di" stroke="#00ff00" d="M1195.6 873.6l11 11l-11 11l-11 -11z"/>
<path d="M1137 946.8H1255.2" stroke="#000" stroke-width="6" stroke-linecap="butt" fill="none"/>
</g>
</svg>
</body></html>
